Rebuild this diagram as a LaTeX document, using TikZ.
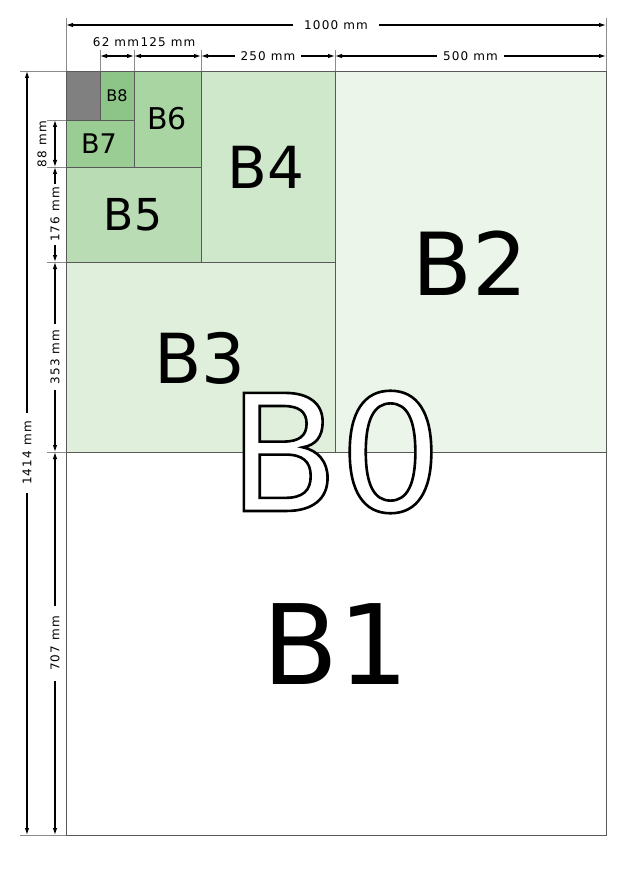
\documentclass[tikz,border=0pt]{standalone}
\usepackage{fontspec}
\setmainfont{DejaVu Sans}
\newfontfamily\dimfont[LetterSpace=10]{DejaVu Sans}
\usetikzlibrary{positioning, arrows.meta}

\definecolor{bgrey}{HTML}{808080}
\definecolor{bviii}{HTML}{8CC587}
\definecolor{bvii}{HTML}{99CD93}
\definecolor{bvi}{HTML}{A8D5A2}
\definecolor{bv}{HTML}{BADCB5}
\definecolor{biv}{HTML}{CFE7CA}
\definecolor{biii}{HTML}{DFEFDB}
\definecolor{bii}{HTML}{EBF5E9}

\newcommand\outlined[1]{\special{pdf:literal direct 2 Tr 2.6 w 0 G}#1\special{pdf:literal direct 0 Tr}}

\begin{document}
\begin{tikzpicture}[x=1pt, y=-1pt, >={Latex[length=7pt,width=4.5pt]},
  sheet/.style={draw=black!65, line width=0.8pt},
  ext/.style={draw=black!45, line width=0.8pt},
  dim/.style={<->, black, line width=1.1pt},
  dimlabel/.style={fill=white, inner ysep=1pt, inner xsep=6pt, font=\dimfont\fontsize{12}{13}\selectfont},
  bsize/.style={font=\fontsize{#1}{#1}\selectfont, inner sep=0pt}]
  \useasboundingbox (0,0) rectangle (640,869);

  % paper sizes
  \foreach \xa/\ya/\xb/\yb/\col in {335/71/606/452/bii, 66/262/335/452/biii,
      201/71/335/262/biv, 66/167/201/262/bv, 134/71/201/167/bvi,
      66/120/134/167/bvii, 100/71/134/120/bviii, 66/71/100/120/bgrey}
    \filldraw[sheet, fill=\col] (\xa,\ya) rectangle (\xb,\yb);
  \draw[sheet] (66,71) rectangle (606,835);

  \node[bsize=16] (b8) at (117,96) {B8};
  \node[bsize=27] (b7) at (99,144) {B7};
  \node[bsize=30] (b6) at (167,119) {B6};
  \node[bsize=44] (b5) at (133,215) {B5};
  \node[bsize=58] (b4) at (266,167) {B4};
  \node[bsize=69] (b3) at (200,358) {B3};
  \node[bsize=87] (b2) at (470,263) {B2};
  \node[bsize=111] (b1) at (336,644) {B1};
  \node[bsize=162, text=white] (b0) at (335,452) {\outlined{B0}};

  % extension lines
  \foreach \x/\y in {66/18, 606/18, 100/50, 134/50, 201/50, 335/50}
    \draw[ext] (\x,\y) -- (\x,71);
  \foreach \x/\y in {20/71, 20/835, 47/120, 47/167, 47/262, 47/452}
    \draw[ext] (\x,\y) -- (66,\y);

  % dimensions
  \coordinate (t0) at (66,25);
  \coordinate (t1) at (606,25);
  \coordinate (m0) at (100,56);
  \coordinate (m1) at (134,56);
  \coordinate (m2) at (201,56);
  \coordinate (m3) at (335,56);
  \coordinate (m4) at (606,56);
  \coordinate (l0) at (27,71);
  \coordinate (l1) at (27,835);
  \coordinate (v0) at (55,120);
  \coordinate (v1) at (55,167);
  \coordinate (v2) at (55,262);
  \coordinate (v3) at (55,452);
  \coordinate (v4) at (55,835);

  \draw[dim] (t0) -- node[dimlabel, inner xsep=11pt] (w1000) {1000 mm} (t1);
  \draw[dim] (m0) -- (m1);
  \draw[dim] (m1) -- (m2);
  \node[dimlabel, fill=none, inner xsep=0pt] (w62) at (116,42) {62 mm};
  \node[dimlabel, fill=none, inner xsep=0pt] (w125) at (168,42) {125 mm};
  \draw[dim] (m2) -- node[dimlabel] (w250) {250 mm} (m3);
  \draw[dim] (m3) -- node[dimlabel] (w500) {500 mm} (m4);

  \draw[dim] (l0) -- node[dimlabel, rotate=90, inner xsep=8pt] (h1414) {1414 mm} (l1);
  \draw[dim] (v0) -- (v1);
  \node[dimlabel, fill=none, rotate=90, inner xsep=0pt] (h88) at (42,144) {88 mm};
  \draw[dim] (v1) -- node[dimlabel, rotate=90, inner xsep=3pt] (h176) {176 mm} (v2);
  \draw[dim] (v2) -- node[dimlabel, rotate=90] (h353) {353 mm} (v3);
  \draw[dim] (v3) -- node[dimlabel, rotate=90, inner xsep=10pt] (h707) {707 mm} (v4);
\end{tikzpicture}
\end{document}
